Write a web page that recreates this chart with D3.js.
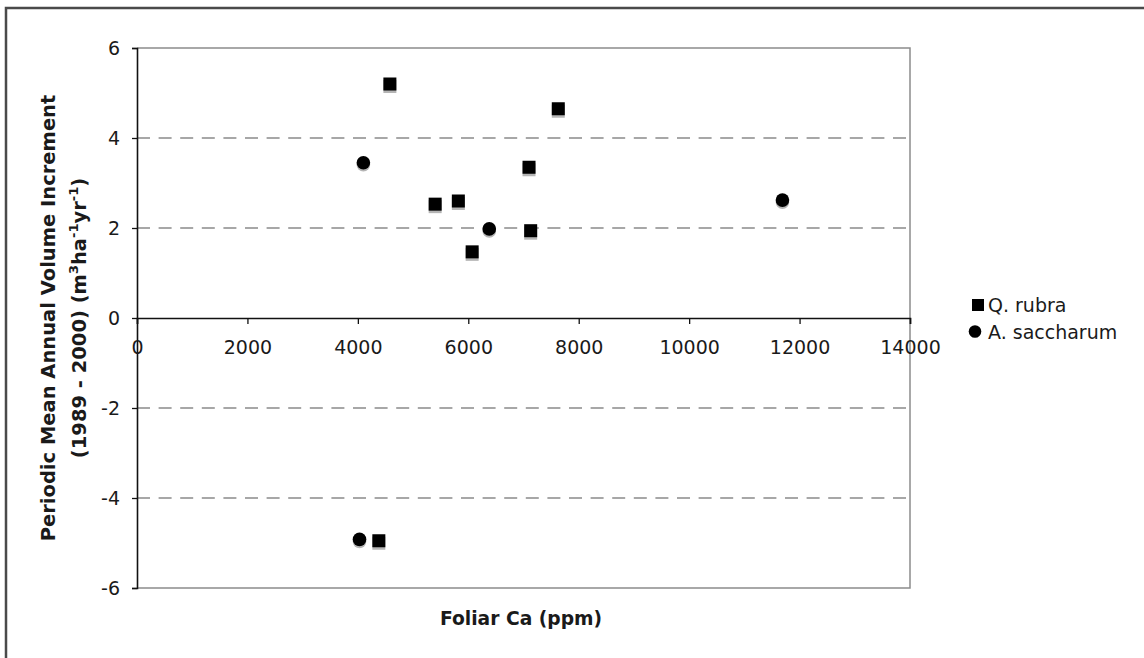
<!DOCTYPE html>
<html>
<head>
<meta charset="utf-8">
<script src="https://cdn.jsdelivr.net/npm/d3@7"></script>
<style>
  html, body { margin: 0; padding: 0; background: #fff; }
  svg { display: block; }
  text { font-family: "DejaVu Sans", sans-serif; fill: #1a1a1a; }
</style>
</head>
<body>
<svg id="chart" width="1144" height="658"></svg>
<script>
// ---- data ----
const seriesNames = ["Q. rubra", "A. saccharum"];
const rubraCa  = [4580, 7630, 7100, 5400, 5820, 7130, 6070, 4380];
const rubraPAI = [5.20, 4.65, 3.35, 2.53, 2.60, 1.94, 1.47, -4.95];
const saccCa   = [4100, 6380, 11690, 4030];
const saccPAI  = [3.45, 1.98, 2.62, -4.92];
const xTicks = [0, 2000, 4000, 6000, 8000, 10000, 12000, 14000];
const yTicks = [-6, -4, -2, 0, 2, 4, 6];
const gridTicks = [-4, -2, 2, 4];

const FONT = '"DejaVu Sans", sans-serif';
const TICK_FS = 19;

const svg = d3.select("#chart");
svg.append("rect").attr("width", 1144).attr("height", 658).attr("fill", "#fff");
// outer frame
svg.append("rect").attr("x", 6).attr("y", 8).attr("width", 1160).attr("height", 680)
  .attr("fill", "none").attr("stroke", "#4a4a4a").attr("stroke-width", 2.5);

const x = d3.scaleLinear().domain([0, 14000]).range([137, 910]);
const y = d3.scaleLinear().domain([-6, 6]).range([588, 48]);

// plot border (top, right, bottom)
svg.append("path")
  .attr("d", `M${x(0)},${y(6)}H${x(14000)}V${y(-6)}H${x(0)}`)
  .attr("fill", "none").attr("stroke", "#8c8c8c").attr("stroke-width", 1.5);

// dashed gridlines
svg.append("g").selectAll("line").data(gridTicks).join("line")
  .attr("x1", x(0)).attr("x2", x(14000))
  .attr("y1", d => y(d)).attr("y2", d => y(d))
  .attr("stroke", "#8a8a8a").attr("stroke-width", 1.5)
  .attr("stroke-dasharray", "13,8.6");

// y axis
const gy = svg.append("g").attr("transform", `translate(${x(0)},0)`)
  .call(d3.axisLeft(y).tickValues(yTicks).tickSize(5).tickFormat(d3.format("d")));
gy.select(".domain").attr("stroke", "#111").attr("stroke-width", 1.6);
gy.selectAll(".tick line").attr("stroke", "#111").attr("stroke-width", 1.3);
gy.selectAll(".tick text")
  .attr("font-size", TICK_FS).attr("x", -17).attr("dy", "0.36em")
  .attr("fill", "#1a1a1a").style("font-family", FONT)
  .text(d => d < 0 ? "-" + Math.abs(d) : d);

// x axis at y = 0
const gx = svg.append("g").attr("transform", `translate(0,${y(0)})`)
  .call(d3.axisBottom(x).tickValues(xTicks).tickSize(6).tickFormat(d3.format("d")));
gx.select(".domain").attr("stroke", "#111").attr("stroke-width", 1.6);
gx.selectAll(".tick line").attr("stroke", "#111").attr("stroke-width", 1.3);
gx.selectAll(".tick text")
  .attr("font-size", TICK_FS).attr("y", 36).attr("dy", 0).attr("x", 0)
  .attr("fill", "#1a1a1a").style("font-family", FONT);

// markers
const SQ = 13, R = 6.8;
const rubra = rubraCa.map((c, i) => ({ c, v: rubraPAI[i] }));
const sacc = saccCa.map((c, i) => ({ c, v: saccPAI[i] }));

const gm = svg.append("g");
gm.selectAll("rect.sh").data(rubra).join("rect").attr("class", "sh")
  .attr("x", d => x(d.c) - SQ / 2).attr("y", d => y(d.v) - SQ / 2 + 2.5)
  .attr("width", SQ).attr("height", SQ).attr("fill", "#b5b5b5");
gm.selectAll("circle.sh").data(sacc).join("circle").attr("class", "sh")
  .attr("cx", d => x(d.c)).attr("cy", d => y(d.v) + 2)
  .attr("r", R).attr("fill", "#b5b5b5");
gm.selectAll("rect.mk").data(rubra).join("rect").attr("class", "mk")
  .attr("x", d => x(d.c) - SQ / 2).attr("y", d => y(d.v) - SQ / 2)
  .attr("width", SQ).attr("height", SQ).attr("fill", "#000");
gm.selectAll("circle.mk").data(sacc).join("circle").attr("class", "mk")
  .attr("cx", d => x(d.c)).attr("cy", d => y(d.v))
  .attr("r", R).attr("fill", "#000");

// axis titles
svg.append("text")
  .attr("transform", `translate(521,625)`)
  .attr("text-anchor", "middle").attr("font-size", 18.7).attr("font-weight", "bold")
  .text("Foliar Ca (ppm)");

const cy = (y(6) + y(-6)) / 2;
svg.append("text")
  .attr("transform", `translate(55,${cy}) rotate(-90)`)
  .attr("text-anchor", "middle").attr("font-size", 19.5).attr("font-weight", "bold")
  .text("Periodic Mean Annual Volume Increment");

const t2 = svg.append("text")
  .attr("transform", `translate(86,${cy}) rotate(-90)`)
  .attr("text-anchor", "middle").attr("font-size", 19.5).attr("font-weight", "bold");
t2.append("tspan").text("(1989 - 2000) (m");
t2.append("tspan").attr("font-size", 13).attr("dy", -8).text("3");
t2.append("tspan").attr("dy", 8).text("ha");
t2.append("tspan").attr("font-size", 13).attr("dy", -8).text("-1");
t2.append("tspan").attr("dy", 8).text("yr");
t2.append("tspan").attr("font-size", 13).attr("dy", -8).text("-1");
t2.append("tspan").attr("dy", 8).text(")");

// legend
const lg = svg.append("g");
lg.append("rect").attr("x", 978 - 6).attr("y", 305 - 6).attr("width", 12).attr("height", 12).attr("fill", "#000");
lg.append("circle").attr("cx", 975).attr("cy", 331.5).attr("r", 6.3).attr("fill", "#000");
lg.selectAll("text").data(seriesNames).join("text")
  .attr("transform", (d, i) => `translate(988,${312 + i * 27})`)
  .attr("font-size", 19)
  .text(d => d);
</script>
</body>
</html>
